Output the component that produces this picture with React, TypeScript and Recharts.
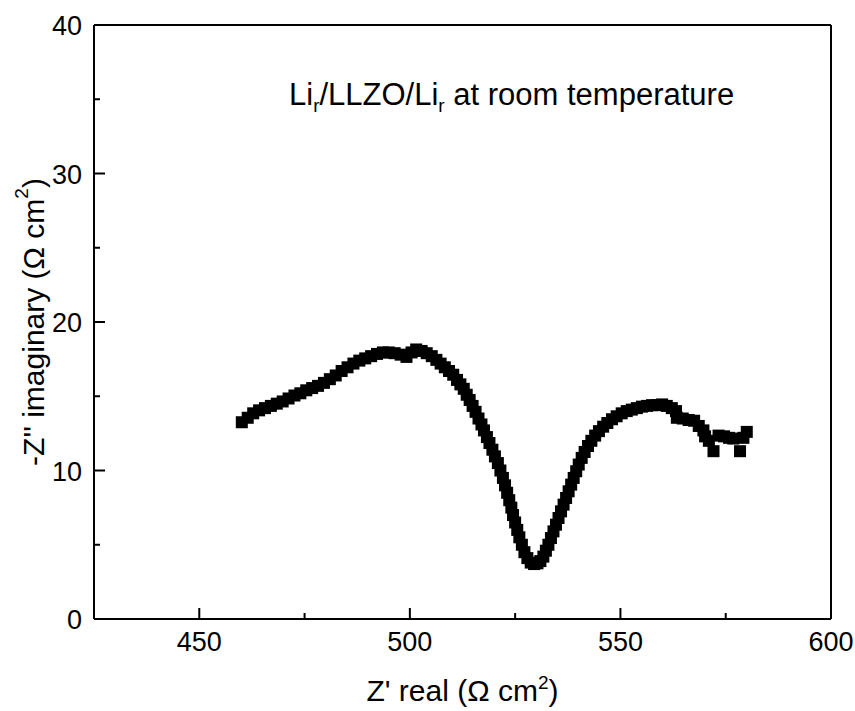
import React from 'react'
import { ScatterChart, Scatter, XAxis, YAxis } from 'recharts'

const zReal = [
  460.1, 461.5, 462.8, 464.2, 465.6, 467.0, 468.4, 469.8, 471.2, 472.6,
  474.0, 475.4, 476.8, 478.2, 479.6, 481.0, 482.4, 483.8, 485.2, 486.6,
  488.0, 489.4, 490.8, 492.2, 493.6, 495.0, 496.4, 497.8, 499.2, 500.4,
  501.5, 502.8, 504.0, 505.2, 506.3, 507.3, 508.3, 509.3, 510.3, 511.2,
  512.0, 512.8, 513.5, 514.2, 514.9, 515.6, 516.3, 517.0, 517.6, 518.3,
  518.9, 519.6, 520.2, 520.9, 521.5, 522.1, 522.6, 523.1, 523.6, 524.1,
  524.5, 525.0, 525.5, 526.0, 526.6, 527.2, 527.9, 528.7, 529.5, 530.3,
  531.0, 531.7, 532.3, 532.9, 533.5, 534.1, 534.7, 535.3, 535.9, 536.5,
  537.1, 537.7, 538.3, 538.9, 539.5, 540.1, 540.8, 541.5, 542.3, 543.1,
  544.0, 544.9, 545.9, 546.9, 548.0, 549.1, 550.3, 551.5, 552.7, 553.9,
  555.1, 556.3, 557.5, 558.7, 559.9, 561.0, 562.2, 563.2, 563.4, 564.8,
  566.2, 567.5, 568.6, 569.7, 570.1, 571.0, 572.1, 573.3, 574.6, 575.8,
  576.8, 578.4, 579.2, 580.0,
]

// -Z'' imaginary (ohm cm2)
const zImag = [
  13.25, 13.55, 13.85, 14.05, 14.2, 14.35, 14.5, 14.65, 14.85, 15.05,
  15.2, 15.4, 15.55, 15.7, 15.9, 16.15, 16.4, 16.7, 16.95, 17.2,
  17.4, 17.55, 17.7, 17.85, 17.95, 17.95, 17.9, 17.8, 17.65, 17.95,
  18.15, 18.05, 17.9, 17.7, 17.45, 17.2, 16.95, 16.7, 16.45, 16.1,
  15.8, 15.5, 15.1, 14.75, 14.35, 13.95, 13.5, 13.1, 12.7, 12.25,
  11.85, 11.4, 10.95, 10.5, 10.0, 9.5, 9.0, 8.5, 8.0, 7.5,
  7.0, 6.5, 6.0, 5.5, 5.0, 4.5, 4.1, 3.8, 3.7, 3.75,
  3.9, 4.2, 4.6, 5.0, 5.45, 5.9, 6.35, 6.8, 7.25, 7.7,
  8.15, 8.6, 9.05, 9.5, 9.95, 10.4, 10.85, 11.25, 11.65, 12.0,
  12.35, 12.65, 12.95, 13.2, 13.45, 13.65, 13.85, 14.0, 14.1, 14.2,
  14.3, 14.35, 14.4, 14.4, 14.45, 14.35, 14.2, 14.0, 13.55, 13.5,
  13.4, 13.35, 13.0, 12.7, 12.3, 12.0, 11.3, 12.35, 12.3, 12.2,
  12.15, 11.3, 12.2, 12.6,
]

const xTicks = [425, 450, 475, 500, 525, 550, 575, 600]
const yTicks = [0, 5, 10, 15, 20, 25, 30, 35, 40]

const data = zReal.map((x, i) => ({ x, y: zImag[i] }))

const FONT = 'Arial, "Liberation Sans", sans-serif'

function XTick(props: any) {
  const { x, y, payload } = props
  const major = payload.value % 50 === 0
  return (
    <g>
      <line x1={x} x2={x} y1={y} y2={y - (major ? 11 : 6)} stroke="#000" strokeWidth={2} />
      {major && (
        <text x={x} y={y + 32} textAnchor="middle" fontSize={27} fontFamily={FONT} fill="#000">
          {payload.value}
        </text>
      )}
    </g>
  )
}

function YTick(props: any) {
  const { x, y, payload } = props
  const major = payload.value % 10 === 0
  return (
    <g>
      <line x1={x} x2={x + (major ? 11 : 6)} y1={y} y2={y} stroke="#000" strokeWidth={2} />
      {major && (
        <text x={x - 12} y={y + 10} textAnchor="end" fontSize={27} fontFamily={FONT} fill="#000">
          {payload.value}
        </text>
      )}
    </g>
  )
}

function XTitle(props: any) {
  const { viewBox } = props
  const cx = viewBox.x + viewBox.width / 2
  return (
    <text x={cx} y={viewBox.y + 82} textAnchor="middle" fontSize={30} fontFamily={FONT} fill="#000">
      Z' real (Ω cm<tspan dy={-12} fontSize={19}>2</tspan>
      <tspan dy={12}>)</tspan>
    </text>
  )
}

function YTitle(props: any) {
  const { viewBox } = props
  const cy = viewBox.y + viewBox.height / 2
  const cx = 33
  return (
    <text
      x={cx}
      y={cy}
      transform={`rotate(-90, ${cx}, ${cy})`}
      textAnchor="middle"
      dominantBaseline="central"
      fontSize={30}
      fontFamily={FONT}
      fill="#000"
    >
      -Z'' imaginary (Ω cm<tspan dy={-12} fontSize={19}>2</tspan>
      <tspan dy={12}>)</tspan>
    </text>
  )
}

function Note(props: any) {
  const { viewBox } = props
  const x = viewBox.x + 195
  const y = viewBox.y + viewBox.height + 80
  return (
    <text x={x} y={y} fontSize={31} fontFamily={FONT} fill="#000">
      Li<tspan dy={7} fontSize={19}>r</tspan>
      <tspan dy={-7}>/LLZO/Li</tspan>
      <tspan dy={7} fontSize={19}>r</tspan>
      <tspan dy={-7}> at room temperature</tspan>
    </text>
  )
}

function SquareMark(props: any) {
  const { cx, cy } = props
  return <rect x={cx - 6} y={cy - 6} width={12} height={12} fill="#000" />
}

export default function App() {
  return (
    <div style={{ position: 'absolute', left: 0, top: 0, background: '#fff' }}>
      <ScatterChart width={855} height={711} margin={{ top: 24, right: 23, bottom: 0, left: 0 }}>
        <XAxis
          type="number"
          dataKey="x"
          domain={[425, 600]}
          ticks={xTicks}
          interval={0}
          height={92}
          tickSize={0}
          tickMargin={0}
          tickLine={false}
          axisLine={{ stroke: '#000', strokeWidth: 2 }}
          tick={<XTick />}
          label={<XTitle />}
          allowDataOverflow
        />
        <XAxis
          xAxisId="top"
          orientation="top"
          type="number"
          dataKey="x"
          domain={[425, 600]}
          height={1}
          tick={false}
          tickLine={false}
          axisLine={{ stroke: '#000', strokeWidth: 2 }}
          label={<Note />}
        />
        <YAxis
          type="number"
          dataKey="y"
          domain={[0, 40]}
          ticks={yTicks}
          interval={0}
          width={94}
          tickSize={0}
          tickMargin={0}
          tickLine={false}
          axisLine={{ stroke: '#000', strokeWidth: 2 }}
          tick={<YTick />}
          label={<YTitle />}
          allowDataOverflow
        />
        <YAxis
          yAxisId="right"
          orientation="right"
          type="number"
          dataKey="y"
          domain={[0, 40]}
          width={1}
          tick={false}
          tickLine={false}
          axisLine={{ stroke: '#000', strokeWidth: 2 }}
        />
        <Scatter data={data} shape={<SquareMark />} fill="#000" isAnimationActive={false} />
      </ScatterChart>
    </div>
  )
}
